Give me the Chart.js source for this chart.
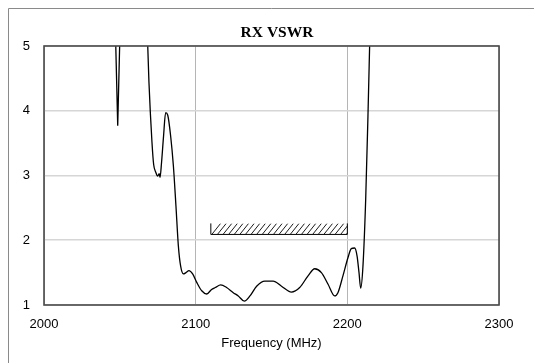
<!DOCTYPE html>
<html>
<head>
<meta charset="utf-8">
<script src="https://cdn.jsdelivr.net/npm/chart.js@4/dist/chart.umd.min.js"></script>
<style>
  html, body { margin: 0; padding: 0; background: #fff; }
  #wrap { width: 534px; height: 363px; position: relative; }
</style>
</head>
<body>
<div id="wrap"><canvas id="c"></canvas></div>
<script>
// ---- data ----
const chartTitle = "RX VSWR";
const xAxisTitle = "Frequency (MHz)";
const xTicks = [2000, 2100, 2200, 2300];
const yTicks = [1, 2, 3, 4, 5];

// narrow spike near 2048 MHz (values above 5 run off the top of the plot)
const spikeFreq = [2046.7, 2048.6, 2050.5];
const spikeVswr = [5.6, 3.77, 5.6];

// main VSWR trace
const vswrFreq = [
  2067.8, 2068.4, 2069.2, 2071.2, 2072.3, 2073.7, 2075.0, 2075.9, 2076.5, 2077.5,
  2078.8, 2080.2, 2081.6, 2083.5, 2085.3, 2087.0, 2088.6, 2090.1, 2091.9, 2093.6,
  2095.6, 2098.0, 2100.7, 2104.0, 2107.3, 2110.5, 2113.0, 2116.5, 2120.4, 2124.8,
  2128.1, 2132.1, 2135.8, 2140.2, 2145.6, 2151.1, 2156.6, 2163.1, 2168.6, 2174.1,
  2178.5, 2182.9, 2187.3, 2191.6, 2193.8, 2197.1, 2200.4, 2202.6, 2204.8, 2206.4,
  2207.7, 2208.8, 2210.3, 2212.1, 2213.6, 2214.7, 2215.3
];
const vswrValue = [
  5.6, 5.0, 4.44, 3.51, 3.17, 3.05, 2.99, 3.03, 2.97, 3.2,
  3.6, 3.97, 3.93, 3.61, 3.15, 2.53, 1.91, 1.60, 1.48, 1.50,
  1.53, 1.48, 1.35, 1.22, 1.17, 1.24, 1.27, 1.31, 1.27, 1.19,
  1.14, 1.06, 1.14, 1.29, 1.37, 1.37, 1.29, 1.20, 1.27, 1.45,
  1.56, 1.50, 1.32, 1.14, 1.19, 1.45, 1.73, 1.87, 1.88, 1.76,
  1.50, 1.26, 1.60, 2.63, 3.92, 5.0, 5.6
];

// specification band (hatched box)
const specBand = [2110, 2200];
const specLevels = [2.09, 2.26];

// ---- plugins ----
const framePlugin = {
  id: 'frame',
  beforeDraw(chart) {
    const ctx = chart.ctx;
    ctx.save();
    ctx.strokeStyle = '#8a8a8a';
    ctx.lineWidth = 1;
    ctx.beginPath();
    ctx.moveTo(8.5, chart.height);
    ctx.lineTo(8.5, 8.5);
    ctx.lineTo(chart.width, 8.5);
    ctx.stroke();
    ctx.restore();
  },
  afterDatasetsDraw(chart) {
    const {ctx, chartArea: a, scales} = chart;
    // plot border
    ctx.save();
    ctx.strokeStyle = '#4a4a4a';
    ctx.lineWidth = 1.6;
    ctx.strokeRect(a.left, a.top, a.right - a.left, a.bottom - a.top);
    // hatched spec box
    const x0 = scales.x.getPixelForValue(specBand[0]);
    const x1 = scales.x.getPixelForValue(specBand[1]);
    const yb = scales.y.getPixelForValue(specLevels[0]);
    const yt = scales.y.getPixelForValue(specLevels[1]);
    ctx.strokeStyle = '#000';
    ctx.lineWidth = 1;
    ctx.beginPath();
    ctx.moveTo(x0, yt); ctx.lineTo(x0, yb); ctx.lineTo(x1, yb); ctx.lineTo(x1, yt);
    ctx.stroke();
    ctx.save();
    ctx.beginPath();
    ctx.rect(x0, yt, x1 - x0, yb - yt);
    ctx.clip();
    ctx.beginPath();
    const h = yb - yt;
    const dx = h * 0.8;
    for (let x = x0 + 1; x < x1 + dx; x += 5.6) {
      ctx.moveTo(x, yb);
      ctx.lineTo(x + dx, yt);
    }
    ctx.lineWidth = 0.9;
    ctx.stroke();
    ctx.restore();
    // title
    ctx.fillStyle = '#000';
    ctx.font = 'bold 15.5px "Liberation Serif", "Times New Roman", serif';
    ctx.textAlign = 'center';
    ctx.textBaseline = 'middle';
    ctx.fillText(chartTitle, 277, 32.5);
    ctx.restore();
  }
};

const toPts = (xs, ys) => xs.map((x, i) => ({x: x, y: ys[i]}));

new Chart(document.getElementById('c'), {
  type: 'line',
  data: {
    datasets: [
      {
        data: toPts(spikeFreq, spikeVswr),
        borderColor: '#000', borderWidth: 1.3, pointRadius: 0, tension: 0, fill: false
      },
      {
        data: toPts(vswrFreq, vswrValue),
        borderColor: '#000', borderWidth: 1.3, pointRadius: 0,
        cubicInterpolationMode: 'monotone', fill: false
      }
    ]
  },
  options: {
    responsive: true,
    maintainAspectRatio: false,
    animation: false,
    events: [],
    layout: { padding: { top: 46, right: 35, bottom: 0, left: 0 } },
    plugins: { legend: { display: false }, tooltip: { enabled: false }, title: { display: false } },
    scales: {
      x: {
        type: 'linear', min: 2000, max: 2300,
        afterBuildTicks(scale) { scale.ticks = xTicks.map(v => ({value: v})); },
        afterFit(scale) { scale.height = 58; },
        grid: { color: '#b5b5b5', lineWidth: 1, drawTicks: false },
        border: { display: false },
        ticks: {
          padding: 12, color: '#000', maxRotation: 0,
          callback: (v) => String(v),
          font: { family: '"Liberation Sans", Arial, sans-serif', size: 13 }
        },
        title: {
          display: true, text: xAxisTitle, color: '#000',
          padding: { top: 0, bottom: 12 },
          font: { family: '"Liberation Sans", Arial, sans-serif', size: 13 }
        }
      },
      y: {
        type: 'linear', min: 1, max: 5,
        afterBuildTicks(scale) { scale.ticks = yTicks.map(v => ({value: v})); },
        afterFit(scale) { scale.width = 44; },
        grid: { color: '#d6d6d6', lineWidth: 1.6, drawTicks: false },
        border: { display: false },
        ticks: {
          padding: 14, color: '#000',
          callback: (v) => String(v),
          font: { family: '"Liberation Sans", Arial, sans-serif', size: 13 }
        }
      }
    }
  },
  plugins: [framePlugin]
});
</script>
</body>
</html>
